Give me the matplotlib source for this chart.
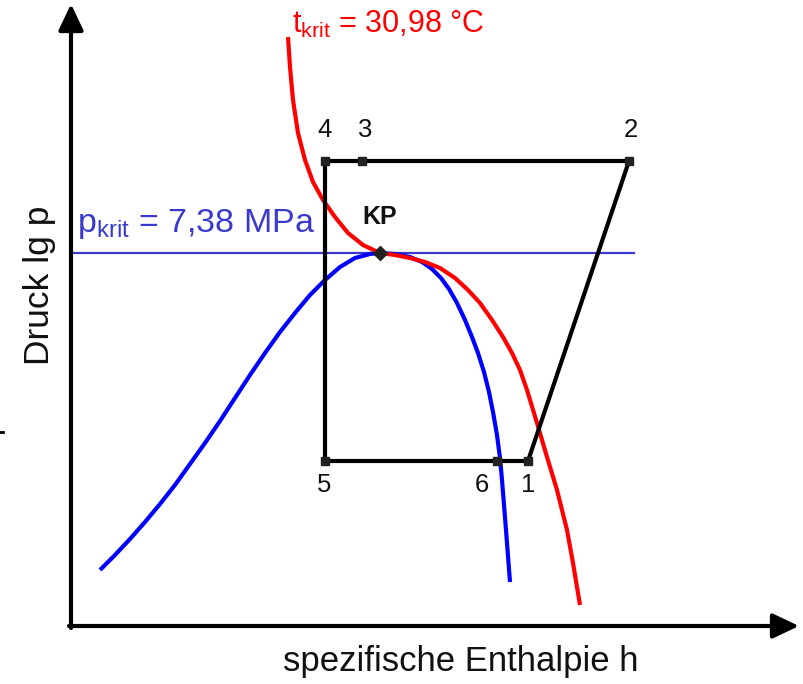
import matplotlib.pyplot as plt

plt.rcParams['font.family'] = ['Liberation Sans', 'DejaVu Sans']
plt.rcParams['mathtext.fontset'] = 'custom'
plt.rcParams['mathtext.rm'] = 'Liberation Sans'
plt.rcParams['mathtext.default'] = 'regular'

# schematic lg p-h diagram for CO2, coordinates (pixel units, y down)
dome_h = [100, 115, 130, 145, 160, 175, 190, 205, 220, 235, 250, 265, 280, 295, 310,
          325, 340, 355, 370, 380, 395, 410, 422, 432, 441, 449, 457, 465, 472, 478,
          484, 489, 493, 497, 500, 502, 504, 506, 508, 510]
dome_p = [570, 555, 539, 522, 504, 485, 464, 443, 421, 398, 375, 353, 332, 313, 295,
          280, 267, 258, 254, 253, 254, 257, 262, 269, 278, 289, 303, 320, 337, 353,
          372, 392, 412, 435, 458, 480, 505, 530, 556, 582]

iso_h = [288, 290, 293, 298, 305, 313, 323, 335, 348, 363, 380, 395, 410, 425, 440,
         455, 468, 480, 492, 503, 512, 520, 527, 537, 547, 557, 567, 573, 580]
iso_p = [37, 67, 100, 133, 160, 182, 200, 217, 233, 245, 253, 255, 258, 262, 268,
         278, 290, 303, 320, 337, 353, 370, 390, 423, 457, 490, 530, 563, 605]

# cycle 4 -> 2 -> 1 -> 5 -> 4
cycle_h = [325, 629, 528, 325, 325]
cycle_p = [161, 161, 461, 461, 161]

point_names = ['4', '3', '2', '5', '6', '1']
point_h = [325, 362, 629, 325, 497, 528]
point_p = [161, 161, 161, 461, 461, 461]
label_h = [325, 365, 631, 324, 482, 528]
label_p = [130, 130, 130, 485, 485, 485]

kp_h, kp_p = 380, 253
p_krit_line = 253

fig = plt.figure(figsize=(8.04, 6.84), dpi=100)
ax = fig.add_axes([0, 0, 1, 1])
ax.set_xlim(0, 804)
ax.set_ylim(684, 0)
ax.axis('off')

blue_txt = '#3a3acc'
ink = '#111111'

# axes with arrows
arrow = dict(arrowstyle='-|>,head_length=0.8,head_width=0.38',
             lw=3, color='black', mutation_scale=20, shrinkA=0, shrinkB=0)
ax.annotate('', xy=(71, 4), xytext=(71, 628), arrowprops=arrow)
ax.annotate('', xy=(799, 626), xytext=(69, 626), arrowprops=arrow)
ax.plot([0, 3], [432, 432], color='black', lw=2)

ax.plot([71, 634], [p_krit_line, p_krit_line], color=blue_txt, lw=1.6, zorder=2)

ax.plot(dome_h, dome_p, color='#0000ff', lw=3, solid_joinstyle='round',
        solid_capstyle='butt', zorder=3)
ax.plot(iso_h, iso_p, color='#ff0000', lw=3, solid_joinstyle='round',
        solid_capstyle='butt', zorder=3)

ax.plot(cycle_h, cycle_p, color='black', lw=3, solid_joinstyle='miter', zorder=4)
ax.plot(point_h, point_p, 's', color='#222222', ms=6, zorder=5)
ax.plot([kp_h], [kp_p], 'D', color='#222222', ms=7, zorder=5)

for name, h, p in zip(point_names, label_h, label_p):
    ax.text(h, p, name, fontsize=18.5, ha='center', va='center', color=ink)

ax.text(kp_h, 217, 'KP', fontsize=18, fontweight='bold', ha='center', va='center', color=ink)

ax.text(292, 33, r't$_{krit}$ = 30,98 °C', fontsize=22, color='#ff0000', ha='left', va='baseline')
ax.text(77, 232, r'p$_{krit}$ = 7,38 MPa', fontsize=24.5, color=blue_txt, ha='left', va='baseline')

ax.text(40, 285, 'Druck lg p', fontsize=25.5, rotation=90, ha='center', va='center', color=ink)
ax.text(461, 661, 'spezifische Enthalpie h', fontsize=25, ha='center', va='center', color=ink)

fig.savefig('out.png', dpi=100)
